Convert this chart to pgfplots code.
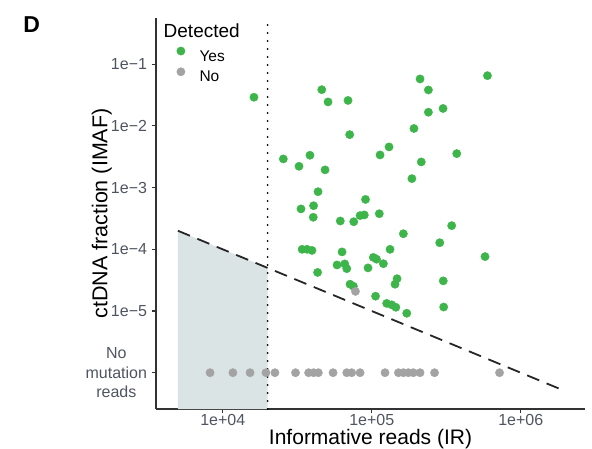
\documentclass[border=0pt]{standalone}
\usepackage{fontspec}
\setmainfont{Liberation Sans}
\usepackage{pgfplots}
\pgfplotsset{compat=1.18}
\definecolor{ptgreen}{HTML}{3DB54A}
\definecolor{ptgray}{HTML}{A3A3A3}
\definecolor{shadecol}{HTML}{DAE4E4}
\definecolor{ticktext}{HTML}{4F5560}
\pgfplotsset{dotlegend/.style={legend image code/.code={\draw[##1, only marks] plot coordinates {(0pt,5.5pt)};}}}

\pgfplotstableread{
x y
16200 0.0292
46200 0.0387
50900 0.0245
69300 0.0259
71100 0.00723
25500 0.00292
38500 0.00335
32500 0.00222
48600 0.00194
113700 0.00339
130600 0.00457
598000 0.0653
211000 0.0578
240000 0.0383
240000 0.0167
301000 0.0192
192000 0.0091
215000 0.00261
372000 0.00356
186000 0.00140
43600 0.000859
33500 0.000452
40700 0.000509
40500 0.000331
90800 0.000644
112400 0.000378
61500 0.000288
75700 0.000280
83500 0.000352
89100 0.000361
344000 0.000242
163000 0.000179
286000 0.000128
132700 0.000100
576000 0.0000762
34100 0.000100
36800 0.000100
39700 0.0000960
63200 0.0000908
102500 0.0000740
107700 0.0000692
119700 0.0000585
58500 0.0000558
65900 0.0000580
68000 0.0000486
94400 0.0000500
43300 0.0000422
71500 0.0000272
75300 0.0000252
147900 0.0000334
143300 0.0000272
302000 0.0000308
106100 0.0000174
126000 0.0000133
136200 0.0000126
145200 0.0000115
171800 0.0000092
304000 0.0000116
}\yesdata

\pgfplotstableread{
x y
77800 0.0000208
8220 1e-6
11700 1e-6
15250 1e-6
19500 1e-6
22400 1e-6
30800 1e-6
37700 1e-6
40700 1e-6
43800 1e-6
55000 1e-6
68000 1e-6
73400 1e-6
83500 1e-6
122800 1e-6
151000 1e-6
163000 1e-6
176000 1e-6
190000 1e-6
211000 1e-6
264000 1e-6
721000 1e-6
}\nodata

\begin{document}
\begin{tikzpicture}
\useasboundingbox (-156pt,-40pt) rectangle (436pt,409pt);
\begin{axis}[
  at={(0pt,0pt)}, anchor=south west,
  scale only axis, width=429pt, height=391pt,
  xmode=log, ymode=log,
  xmin=3565, xmax=2.7e6, ymin=2.58e-7, ymax=0.562,
  axis lines=left,
  axis line style={-, line width=1.1pt, color=black!80},
  xminorticks=false, yminorticks=false,
  tick align=outside, major tick length=4.3pt,
  tick style={line width=1.1pt, color=black!80},
  xtick={1e4,1e5,1e6}, xticklabels={1e+04,1e+05,1e+06},
  ytick={1e-6,1e-5,1e-4,1e-3,1e-2,1e-1},
  yticklabels={{No\\mutation\\reads},1e−5,1e−4,1e−3,1e−2,1e−1},
  ticklabel style={font=\fontsize{16}{19.7}\selectfont, text=ticktext},
  yticklabel style={align=center, anchor=east, inner sep=0pt, xshift=-4.5pt},
  xticklabel style={anchor=north, inner sep=0pt, yshift=-0.5pt},
  xlabel={Informative reads (IR)}, ylabel={ctDNA fraction (IMAF)},
  every axis x label/.style={at={(axis description cs:0.5,0)}, yshift=-35.5pt, anchor=base, font=\fontsize{21}{24}\selectfont},
  every axis y label/.style={at={(axis description cs:0,0.5)}, xshift=-48.7pt, rotate=90, anchor=base, font=\fontsize{21.5}{24}\selectfont},
  legend style={at={(axis description cs:0.0479,0.9266)}, anchor=north west, draw=none, fill=none, inner sep=0pt,
    row sep=5pt, font=\fontsize{15.5}{18}\selectfont, nodes={inner sep=0pt, text=black},
    /tikz/every odd column/.style={column sep=14.5pt}},
  legend cell align=left,
]
\addplot[forget plot, fill=shadecol, draw=none] coordinates {(5000,2.58e-7) (5000,2e-4) (20000,5e-5) (20000,2.58e-7)} -- cycle;
\addplot[forget plot, black, line width=2pt, dash pattern=on 0pt off 8pt, line cap=round] coordinates {(20000,2.58e-7) (20000,0.562)};
\addplot[forget plot, black!85, line width=1.8pt, dash pattern=on 13pt off 8pt] coordinates {(5000,2e-4) (2e6,5e-7)};
\addplot[only marks, mark=*, mark size=4.15pt, color=ptgreen, mark options={draw=none, fill=ptgreen}, dotlegend] table[x=x,y=y] {\yesdata};
\addlegendentry{Yes}
\addplot[only marks, mark=*, mark size=4.15pt, color=ptgray, mark options={draw=none, fill=ptgray}, dotlegend] table[x=x,y=y] {\nodata};
\addlegendentry{No}
\node[anchor=base west, inner sep=0pt, font=\fontsize{19}{22}\selectfont] at (axis description cs:0.0175,0.9514) {Detected};
\end{axis}
\node[anchor=base west, inner sep=0pt, font=\fontsize{23}{26}\selectfont\bfseries] at (-132.7pt,376.7pt) {D};
\end{tikzpicture}
\end{document}
